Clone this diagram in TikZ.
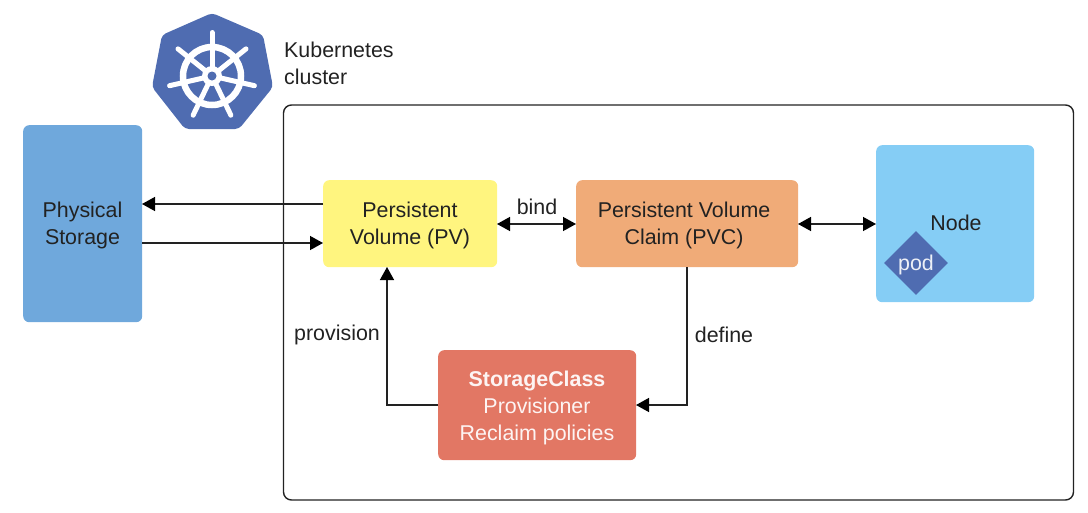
\documentclass[tikz,border=0pt]{standalone}
\usepackage{fontspec}
\setmainfont{Liberation Sans}
\usetikzlibrary{arrows.meta,shapes.geometric}
\definecolor{kblue}{HTML}{4F6CB1}
\definecolor{stor}{HTML}{6FA8DC}
\definecolor{pvc}{HTML}{FFF57F}
\definecolor{pvcc}{HTML}{F0AB78}
\definecolor{nodec}{HTML}{85CDF5}
\definecolor{scc}{HTML}{E27764}
\definecolor{ink}{HTML}{222222}
\tikzset{
  x=1pt,y=-1pt,
  lbl/.style={font=\fontsize{21.4}{27}\selectfont,text=ink,align=center,inner sep=0pt},
  boxst/.style={rounded corners=6pt,anchor=north west,inner sep=0pt,lbl},
  conn/.style={draw=ink,line width=1.4pt,-{Triangle[length=13pt,width=14pt,black]}},
  conn2/.style={draw=ink,line width=1.4pt,{Triangle[length=13pt,width=14pt,black]}-{Triangle[length=13pt,width=14pt,black]}},
  wheel/.style={draw=white,line width=5pt,line cap=round}
}
\begin{document}
\begin{tikzpicture}
\useasboundingbox (0,0) rectangle (1088,512);
% cluster
\node[draw=ink,line width=1.4pt,rounded corners=8pt,anchor=north west,minimum width=790pt,minimum height=395pt,inner sep=0pt,outer sep=0pt] (cluster) at (283.5,105) {};
% logo
\fill[kblue,rounded corners=4pt] (212,13)--(263,35)--(273,87)--(239,129)--(185,129)--(152,87)--(162,35)--cycle;
\draw[draw=white,line width=6.5pt] (212,76) circle (29pt);
\fill[white] (212,76) circle (10pt);
\foreach \a in {90,141.43,192.86,244.29,295.71,347.14,38.57}{
  \draw[wheel] (212,76) -- ++({43.5*cos(\a)},{-43.5*sin(\a)});
}
\fill[kblue] (212,76) circle (4.5pt);
\node[lbl,anchor=west,align=left] (k8s) at (284,63) {Kubernetes\\cluster};
% boxes
\node[boxst,fill=stor,minimum width=119pt,minimum height=197pt] (ps) at (23,125) {};
\node[lbl] (psl) at (82.5,225.5) {Physical\\Storage};
\node[boxst,fill=pvc,minimum width=174pt,minimum height=87pt] (pv) at (323,180) {};
\node[lbl] (pvl) at (410,225.5) {Persistent\\Volume (PV)};
\node[boxst,fill=pvcc,minimum width=222pt,minimum height=87pt] (pvcn) at (576,180) {};
\node[lbl] (pvcl) at (684,225.5) {Persistent Volume\\Claim (PVC)};
\node[boxst,fill=nodec,minimum width=158pt,minimum height=157pt] (nd) at (876,145) {};
\node[lbl] (ndl) at (956,223) {Node};
\node[diamond,aspect=1,fill=kblue,inner sep=0pt,minimum width=64pt,minimum height=64pt] (pod) at (916,263) {};
\node[lbl,text=white!90!kblue] (podl) at (916,264.5) {pod};
\node[boxst,fill=scc,minimum width=198pt,minimum height=110pt] (sc) at (438,350) {};
\node[lbl,text=white!92!scc] (scl) at (537,408) {\textbf{StorageClass}\\Provisioner\\Reclaim policies};
% anchors
\coordinate (a1) at (323,204); \coordinate (a2) at (142,204);
\coordinate (b1) at (142,243); \coordinate (b2) at (323,243);
\coordinate (c1) at (497,224); \coordinate (c2) at (576,224);
\coordinate (d1) at (798,224); \coordinate (d2) at (876,224);
\coordinate (e1) at (687,267); \coordinate (e2) at (687,405); \coordinate (e3) at (636,405);
\coordinate (f1) at (438,405); \coordinate (f2) at (387,405); \coordinate (f3) at (387,267);
\draw[conn] (a1)--(a2);
\draw[conn] (b1)--(b2);
\draw[conn2] (c1)--(c2);
\draw[conn2] (d1)--(d2);
\draw[conn] (e1)--(e2)--(e3);
\draw[conn] (f1)--(f2)--(f3);
\node[lbl] (bind) at (537,207) {bind};
\node[lbl] (def) at (724,335) {define};
\node[lbl] (prov) at (337,335) {provision};
\end{tikzpicture}
\end{document}
